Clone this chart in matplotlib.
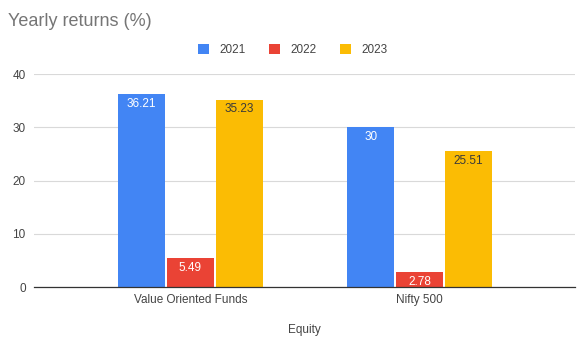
import numpy as np
import matplotlib
matplotlib.use("Agg")
import matplotlib.pyplot as plt

# 数据
categories = ["Value Oriented Funds", "Nifty 500"]
years = ["2021", "2022", "2023"]
returns_2021 = [36.21, 30]
returns_2022 = [5.49, 2.78]
returns_2023 = [35.23, 25.51]

colors = ["#4285F4", "#EA4335", "#FBBC04"]
label_colors = ["white", "white", "#3a3a3a"]

plt.rcParams["font.family"] = ["Liberation Sans", "DejaVu Sans"]

fig = plt.figure(figsize=(5.83, 3.51), dpi=100)
ax = fig.add_axes([34 / 583, 1 - 287 / 351, 541 / 583, (287 - 74.3) / 351])

x = np.arange(len(categories))
width = 0.205
step = 0.213
series = [returns_2021, returns_2022, returns_2023]

for i, (vals, year) in enumerate(zip(series, years)):
    pos = x + (i - 1) * step
    bars = ax.bar(pos, vals, width, color=colors[i], label=year, zorder=3)
    for b, v in zip(bars, vals):
        ax.text(b.get_x() + b.get_width() / 2, v - 0.7, f"{v:g}",
                ha="center", va="top", fontsize=8.5, color=label_colors[i], zorder=4)

ax.set_xlim(-0.683, 1.679)
ax.set_ylim(0, 40)
ax.set_yticks([0, 10, 20, 30, 40])
ax.set_xticks(x)
ax.set_xticklabels(categories)
ax.tick_params(axis="both", length=0, labelsize=8.5, colors="#444444")
ax.tick_params(axis="y", pad=6)
ax.tick_params(axis="x", pad=5)
ax.grid(axis="y", color="#d9d9d9", linewidth=0.8, zorder=0)
for s in ["top", "right", "left"]:
    ax.spines[s].set_visible(False)
ax.spines["bottom"].set_color("#333333")
ax.spines["bottom"].set_linewidth(0.9)
ax.spines["bottom"].set_zorder(5)

ax.set_xlabel("Equity", fontsize=8.5, color="#444444", labelpad=13)

fig.text(8 / 583, 1 - 21 / 351, "Yearly returns (%)", fontsize=13,
         color="#757575", va="center", ha="left")

fig.legend(loc="center", bbox_to_anchor=(293 / 583, 1 - 50 / 351), ncol=3,
           frameon=False, fontsize=8.5, handlelength=0.9, handleheight=0.9,
           columnspacing=2.0, handletextpad=0.9, labelcolor="#444444")

fig.savefig("out.png", dpi=100)
